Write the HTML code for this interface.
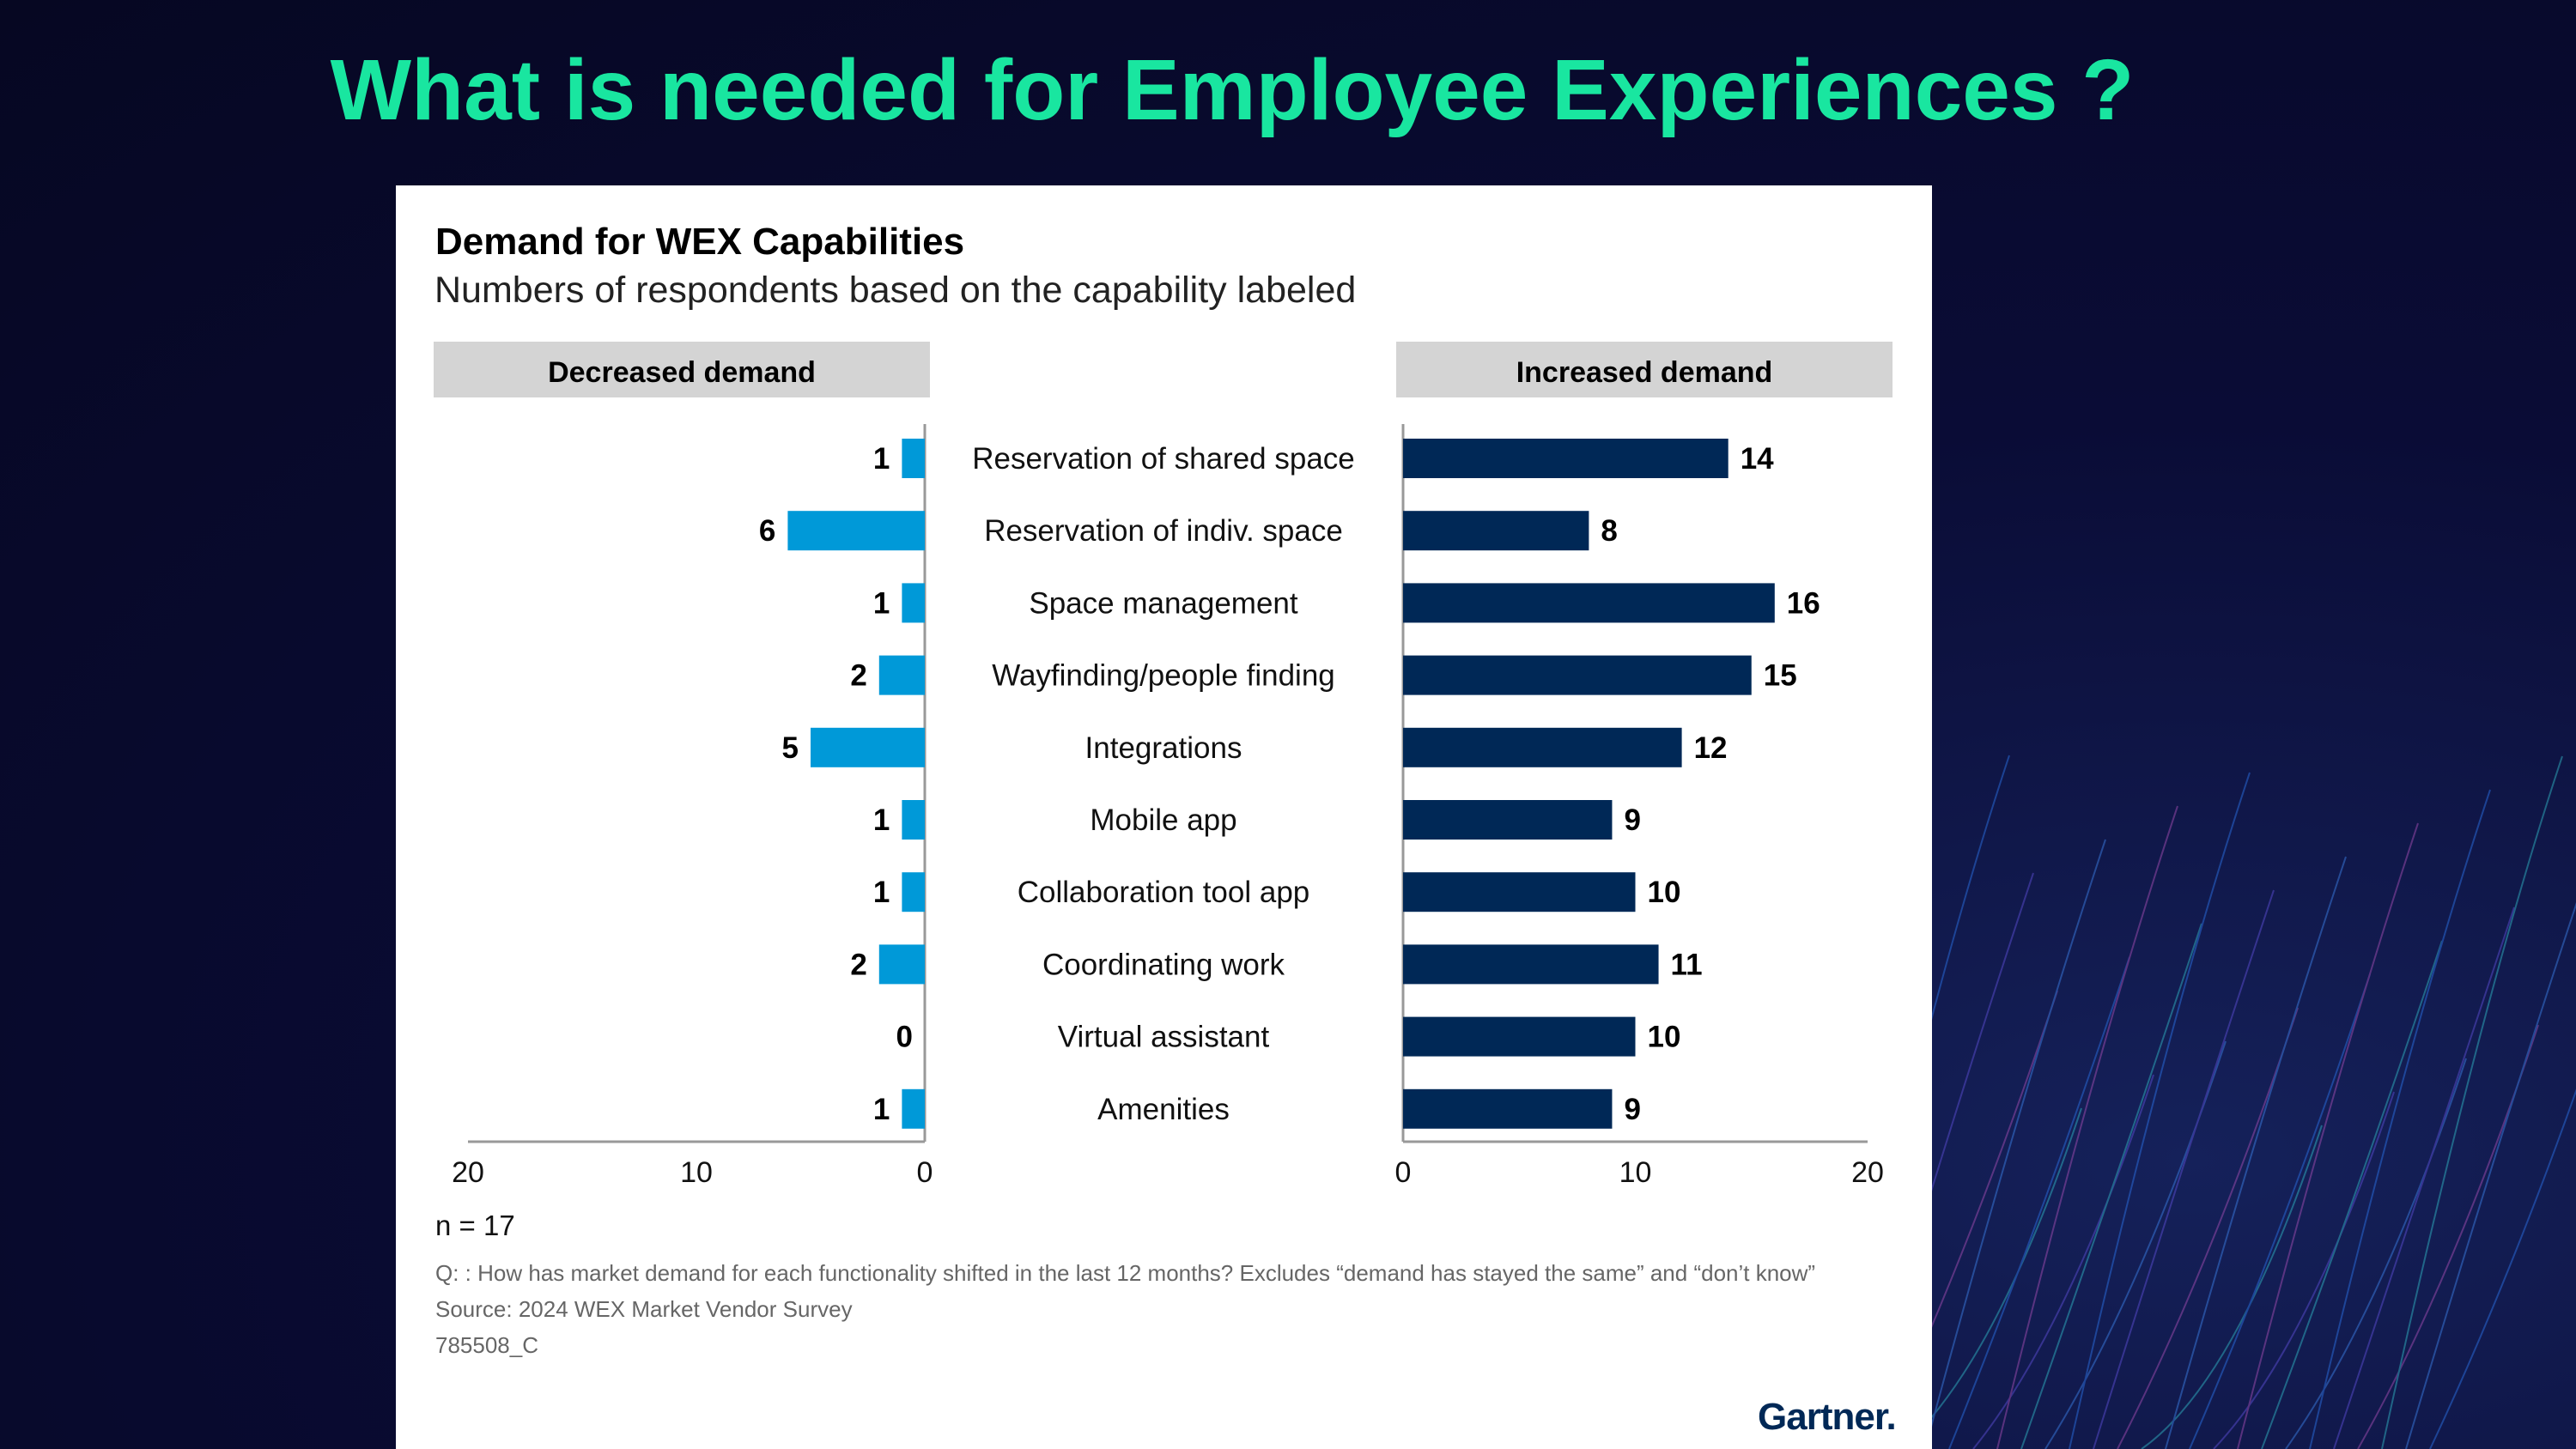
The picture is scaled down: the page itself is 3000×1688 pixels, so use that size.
<!DOCTYPE html>
<html><head><meta charset="utf-8"><style>
body{margin:0;width:3000px;height:1688px;overflow:hidden;background:radial-gradient(ellipse at 85% 80%,#15215a 0%,#0a0c36 45%,#060722 100%);font-family:"Liberation Sans",sans-serif;position:relative}
#title{position:absolute;left:0;width:2870px;top:48px;text-align:center;color:#19e6a0;font-weight:bold;font-size:100px;margin:0}
#panel{position:absolute;left:461px;top:216px;width:1789px;height:1472px;background:#fff}
</style></head><body>
<svg style="position:absolute;left:0;top:0" width="3000" height="1688">
<g id="deco" fill="none" stroke-width="2" opacity="0.5"></g>
</svg>
<h1 id="title">What is needed for Employee Experiences ?</h1>
<div id="panel"></div>
<svg id="chart" style="position:absolute;left:0;top:0" width="3000" height="1688"></svg>
<script>
const categories=["Reservation of shared space","Reservation of indiv. space","Space management","Wayfinding/people finding","Integrations","Mobile app","Collaboration tool app","Coordinating work","Virtual assistant","Amenities"];
const decreased=[1,6,1,2,5,1,1,2,0,1];
const increased=[14,8,16,15,12,9,10,11,10,9];
const ticks=[0,10,20];
const NS="http://www.w3.org/2000/svg";
const svg=document.getElementById('chart');
function el(t,a,txt){const e=document.createElementNS(NS,t);for(const k in a)e.setAttribute(k,a[k]);if(txt!==undefined)e.textContent=txt;svg.appendChild(e);return e;}
const lx=v=>1077-v*26.6, rx=v=>1634+v*27.05, yc=i=>534+i*84.2;
let e;
e=el('text',{x:507,y:296,'font-size':44,'font-weight':'bold',fill:'#000'},'Demand for WEX Capabilities');

e=el('text',{x:506,y:352,'font-size':43,fill:'#222'},'Numbers of respondents based on the capability labeled');

[[505,'Decreased demand','left-header'],[1626,'Increased demand','right-header']].forEach(h=>{
 e=el('rect',{x:h[0],y:398,width:578,height:65,fill:'#d4d4d4'});
 
 e=el('text',{x:h[0]+289,y:445,'font-size':34,'font-weight':'bold','text-anchor':'middle',fill:'#000'},h[1]);
 
});
el('line',{x1:lx(0),x2:lx(0),y1:494,y2:1330,stroke:'#999','stroke-width':3});
el('line',{x1:rx(0),x2:rx(0),y1:494,y2:1330,stroke:'#999','stroke-width':3});
e=el('line',{x1:lx(20),x2:lx(0),y1:1330,y2:1330,stroke:'#999','stroke-width':3});

e=el('line',{x1:rx(0),x2:rx(20),y1:1330,y2:1330,stroke:'#999','stroke-width':3});

ticks.forEach(t=>{
 e=el('text',{x:lx(t),y:1377,'font-size':34,'text-anchor':'middle',fill:'#111'},t);
 
 e=el('text',{x:rx(t),y:1377,'font-size':34,'text-anchor':'middle',fill:'#111'},t);
 
});
categories.forEach((c,i)=>{
 const y=yc(i);
 e=el('text',{x:1355,y:y+12,'font-size':35,'text-anchor':'middle',fill:'#111'},c);
 
 const d=decreased[i];
 e=el('rect',{x:lx(d),y:y-23,width:lx(0)-lx(d),height:46,fill:'#0099d8'});
 
 e=el('text',{x:lx(d)-14,y:y+12,'font-size':35,'font-weight':'bold','text-anchor':'end',fill:'#000'},d);
 
 const v=increased[i];
 e=el('rect',{x:rx(0),y:y-23,width:rx(v)-rx(0),height:46,fill:'#002856'});
 
 e=el('text',{x:rx(v)+14,y:y+12,'font-size':35,'font-weight':'bold',fill:'#000'},v);
 
});
e=el('text',{x:507,y:1439,'font-size':33,fill:'#111'},'n = 17');

[['Q: : How has market demand for each functionality shifted in the last 12 months? Excludes “demand has stayed the same” and “don’t know”',1492],['Source:  2024 WEX Market Vendor Survey',1534],['785508_C',1576]].forEach(f=>{
 e=el('text',{x:507,y:f[1],'font-size':26,fill:'#666'},f[0]);
 
});
e=el('text',{x:2047,y:1665,'font-size':44,'font-weight':'bold',fill:'#002856','letter-spacing':'-1'},'Gartner.');

const g=document.getElementById('deco');
const cols=['#2a6fe0','#5a4cd0','#a04cb0','#2fb0c0','#3a7ce0'];
for(let k=0;k<26;k++){
 const p=document.createElementNS(NS,'path');
 const x0=2280+k*28,top=880+((k*137)%450);
 p.setAttribute('d',`M${x0-150} 1688 Q${x0-40} ${top+300} ${x0+60} ${top}`);
 p.setAttribute('stroke',cols[k%5]);
 g.appendChild(p);
}
</script>
</body></html>
